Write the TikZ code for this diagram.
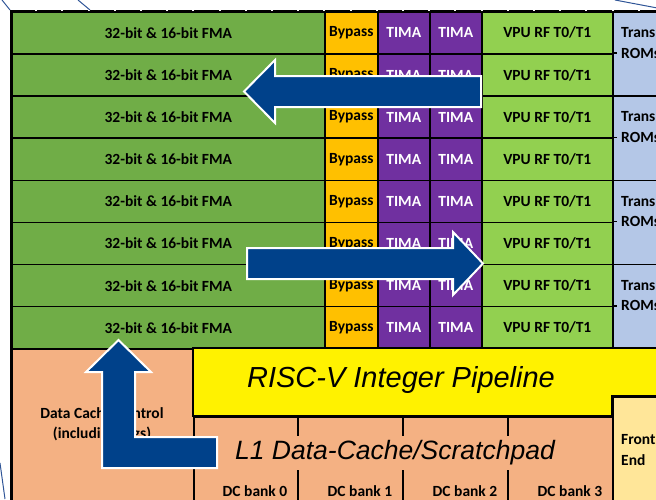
\documentclass[tikz,border=0pt]{standalone}
\usepackage{fontspec}
\setmainfont{Carlito}
\newfontfamily\arialfont{Liberation Sans}
\usetikzlibrary{calc}
\definecolor{fmagreen}{HTML}{70AD47}
\definecolor{bypassorange}{HTML}{FFC000}
\definecolor{timapurple}{HTML}{7030A0}
\definecolor{vpugreen}{HTML}{92D050}
\definecolor{transblue}{HTML}{B4C7E7}
\definecolor{salmonfill}{HTML}{F4B183}
\definecolor{feyellow}{HTML}{FFE699}
\definecolor{arrowblue}{HTML}{00418A}
\definecolor{linkblue}{HTML}{2F5597}
\tikzset{
  cell/.style={draw=black, line width=1.6pt, inner sep=0pt, anchor=north west,
    font=\fontsize{15.5}{18}\selectfont\bfseries},
  lbl/.style={inner sep=0pt, font=\fontsize{15.5}{20.5}\selectfont\bfseries},
  bigtext/.style={inner sep=0pt, font=\arialfont\itshape\fontsize{29}{32}\selectfont},
  bigarrow/.style={fill=arrowblue, draw=white, line width=2pt, line join=miter},
  thinlink/.style={draw=linkblue, line width=1pt}
}
\begin{document}
\begin{tikzpicture}[x=1pt,y=-1pt]
\useasboundingbox (0,0) rectangle (656,499);
\begin{scope}
\clip (0,0) rectangle (656,499);
% rows of the vector unit
\foreach \r in {0,...,7} {
  \pgfmathsetmacro\yy{11+42.125*\r}
  \node[cell, fill=fmagreen, minimum width=313pt, minimum height=42.125pt] (fma\r) at (11,\yy) {32-bit \& 16-bit FMA};
  \node[cell, fill=bypassorange, minimum width=53pt, minimum height=42.125pt] (byp\r) at (324,\yy) {Bypass};
  \node[cell, fill=timapurple, text=white, minimum width=52pt, minimum height=42.125pt] (tima\r) at (377,\yy) {TIMA};
  \node[cell, fill=timapurple, text=white, minimum width=52pt, minimum height=42.125pt] (timb\r) at (429,\yy) {TIMA};
  \node[cell, fill=vpugreen, minimum width=131pt, minimum height=42.125pt] (vpu\r) at (481,\yy) {VPU RF T0/T1};
}
\foreach \t in {0,...,3} {
  \pgfmathsetmacro\yy{11+84.25*\t}
  \node[cell, fill=transblue, minimum width=100pt, minimum height=84.25pt] (trans\t) at (612,\yy) {};
  \node[lbl, anchor=west, align=left] (transtext\t) at (621,\yy+32) {Trans\\ROMs};
  \draw[line width=1.6pt] (612,\yy+42.125) -- (617,\yy+42.125);
}
% lower part
\node[cell, fill=salmonfill, minimum width=182pt, minimum height=180pt] (dcc) at (11,348) {};
\node[lbl, align=center] (dcctext) at (102,424.5) {Data Cache Control\\(including tags)};
\draw[fill=yellow, line width=1.6pt] (193,348) -| (700,396) -| (612,416) -| (193,348) -- cycle;
\node[bigtext] (rv) at (401,380) {RISC-V Integer Pipeline};
\node[cell, fill=feyellow, minimum width=100pt, minimum height=130pt] (fe) at (612,396) {};
\node[lbl, anchor=west, align=left] (fetext) at (621,450) {Front\\End};
\node[cell, fill=salmonfill, minimum width=419pt, minimum height=110pt] (l1) at (193,416) {};
\foreach \x in {298,403,508} {
  \draw[line width=1.6pt] (\x,416) -- (\x,436);
  \draw[line width=1.6pt] (\x,470) -- (\x,520);
}
\node[bigtext, font=\arialfont\itshape\fontsize{26.5}{30}\selectfont] (l1text) at (395,452.5) {L1 Data-Cache/Scratchpad};
\foreach \b/\x in {0/255,1/360,2/465,3/570} {
  \node[lbl] (bank\b) at (\x,491) {DC bank \b};
}
% outer frame
\draw[line width=3pt] (700,11) -- (11,11) -- (11,520);
\foreach \i in {1,...,24} {
  \fill[white] (10+26.2*\i-1,9.6) rectangle +(2,1.4);
}
% block arrows
\draw[bigarrow] (481,76) -- (275,76) -- (275,60) -- (244,91.5) -- (275,123) -- (275,107) -- (481,107) -- cycle;
\draw[bigarrow] (247,248) -- (453,248) -- (453,232) -- (483,263.5) -- (453,295) -- (453,279) -- (247,279) -- cycle;
\draw[bigarrow] (118.5,340) -- (151,372) -- (135,372) -- (135,437) -- (217,437) -- (217,468) -- (102,468) -- (102,372) -- (86,372) -- cycle;
% thin blue lines
\draw[thinlink] (2,0) -- (10,10);
\draw[thinlink] (78,0) -- (90,10);
\draw[thinlink] (615,0) -- (660,8.5);
\draw[thinlink] (0,463) -- (5,499);
\end{scope}
\end{tikzpicture}
\end{document}
